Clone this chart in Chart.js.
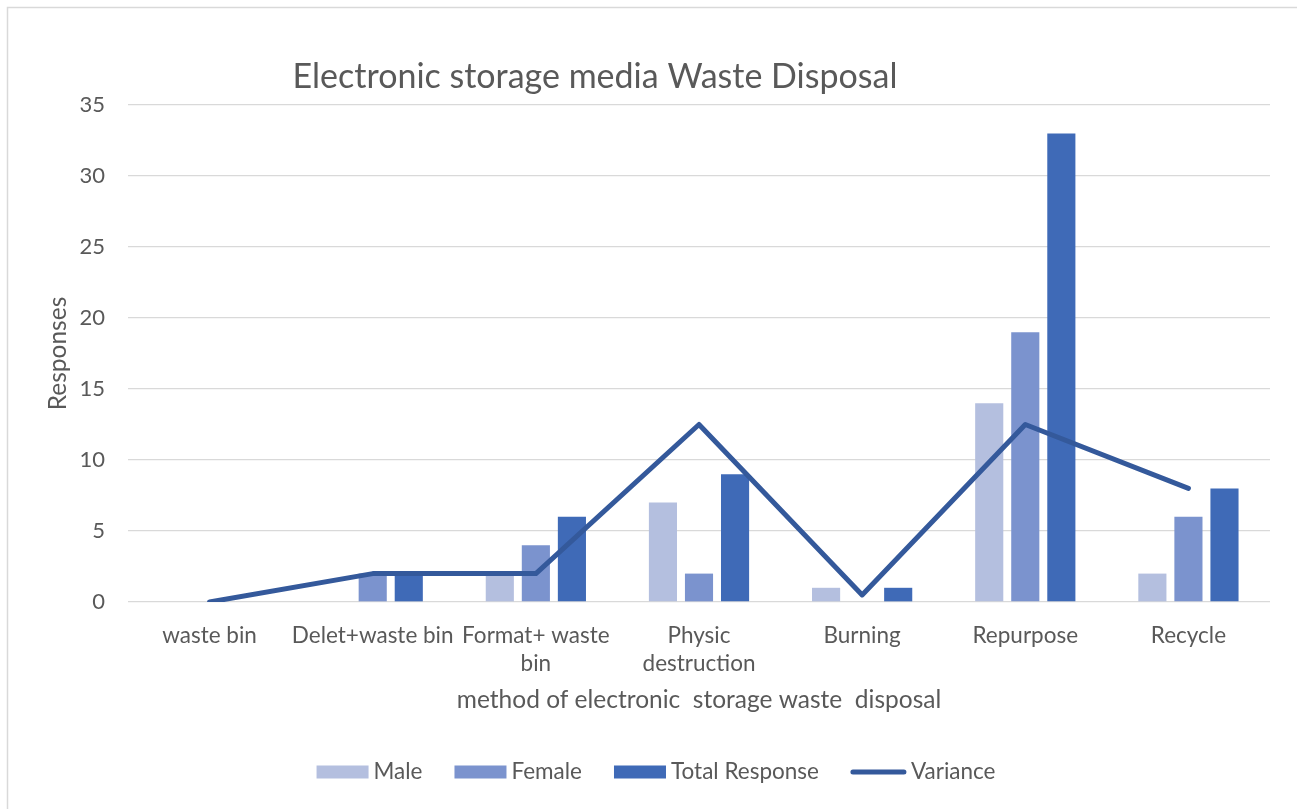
<!DOCTYPE html>
<html>
<head>
<meta charset="utf-8">
<script src="https://cdn.jsdelivr.net/npm/chart.js@4.4.1/dist/chart.umd.min.js"></script>
<style>
  html, body { margin: 0; padding: 0; background: #ffffff; }
  canvas { display: block; }
</style>
</head>
<body>
<canvas id="chart" width="1297" height="809"></canvas>
<script>
// Disposal methods and survey responses
const categories = [
  'waste bin',
  'Delet+waste bin',
  ['Format+ waste', 'bin'],
  ['Physic', 'destruction'],
  'Burning',
  'Repurpose',
  'Recycle'
];
const maleResponses   = [0, 0, 2, 7, 1, 14, 2];
const femaleResponses = [0, 2, 4, 2, 0, 19, 6];
const totalResponses  = [0, 2, 6, 9, 1, 33, 8];
const varianceValues  = [0, 2, 2, 12.5, 0.5, 12.5, 8];
const yTicks = { min: 0, max: 35, step: 5 };

const chartTitle = 'Electronic storage media Waste Disposal';
const xAxisTitle = 'method of electronic  storage waste  disposal';
const yAxisTitle = 'Responses';

const FONT = 'Lato, "Open Sans", sans-serif';
const TEXT_COLOR = '#595959';
const GRID_COLOR = '#D9D9D9';

// White frame with a thin border along the top and left edges, plus the title
const framePlugin = {
  id: 'frame',
  beforeDraw(chart) {
    const ctx = chart.ctx;
    ctx.save();
    ctx.fillStyle = '#ffffff';
    ctx.fillRect(0, 0, chart.width, chart.height);
    ctx.strokeStyle = GRID_COLOR;
    ctx.lineWidth = 1.5;
    ctx.beginPath();
    ctx.moveTo(7.5, chart.height);
    ctx.lineTo(7.5, 7.5);
    ctx.lineTo(chart.width, 7.5);
    ctx.stroke();
    ctx.restore();
  },
  afterDraw(chart) {
    const ctx = chart.ctx;
    ctx.save();
    ctx.fillStyle = TEXT_COLOR;
    ctx.font = '34px ' + FONT;
    ctx.textAlign = 'center';
    ctx.textBaseline = 'middle';
    ctx.fillText(chartTitle, 595, 77);
    ctx.restore();
  }
};

// Legend row under the axis title: boxes for the bar series, a stroke for the line series
const legendPlugin = {
  id: 'bottomLegend',
  afterDraw(chart) {
    const ctx = chart.ctx;
    const sets = chart.data.datasets;
    const boxW = 52, boxH = 13, lineW = 55, textGap = 5, itemGap = 32;
    const cy = 772, cx = 656;
    ctx.save();
    ctx.font = '22.5px ' + FONT;
    ctx.textBaseline = 'middle';
    ctx.textAlign = 'left';
    const widths = sets.map(ds => {
      const sw = ds.type === 'line' ? lineW : boxW;
      return sw + textGap + ctx.measureText(ds.label).width;
    });
    const total = widths.reduce((a, b) => a + b, 0) + itemGap * (sets.length - 1);
    let x = cx - total / 2;
    sets.forEach((ds, i) => {
      if (ds.type === 'line') {
        ctx.strokeStyle = ds.borderColor;
        ctx.lineWidth = ds.borderWidth;
        ctx.lineCap = 'round';
        ctx.beginPath();
        ctx.moveTo(x + 2, cy);
        ctx.lineTo(x + lineW - 2, cy);
        ctx.stroke();
        ctx.fillStyle = TEXT_COLOR;
        ctx.fillText(ds.label, x + lineW + textGap, cy);
      } else {
        ctx.fillStyle = ds.backgroundColor;
        ctx.fillRect(x, cy - boxH / 2, boxW, boxH);
        ctx.fillStyle = TEXT_COLOR;
        ctx.fillText(ds.label, x + boxW + textGap, cy);
      }
      x += widths[i] + itemGap;
    });
    ctx.restore();
  }
};

const barShape = { categoryPercentage: 0.663, barPercentage: 0.78, order: 2 };

new Chart(document.getElementById('chart'), {
  type: 'bar',
  data: {
    labels: categories,
    datasets: [
      { label: 'Male', data: maleResponses, backgroundColor: '#B4BFDF', ...barShape },
      { label: 'Female', data: femaleResponses, backgroundColor: '#7B93CE', ...barShape },
      { label: 'Total Response', data: totalResponses, backgroundColor: '#3F6AB7', ...barShape },
      {
        type: 'line', label: 'Variance', data: varianceValues,
        borderColor: '#34599B', backgroundColor: '#34599B', borderWidth: 5,
        pointRadius: 0, pointHoverRadius: 0, tension: 0, fill: false,
        borderCapStyle: 'round', borderJoinStyle: 'round', order: 1
      }
    ]
  },
  options: {
    responsive: false,
    devicePixelRatio: 1,
    animation: false,
    layout: { padding: { top: 105, right: 27, left: 43, bottom: 94 } },
    plugins: {
      legend: { display: false },
      title: { display: false },
      tooltip: { enabled: false }
    },
    scales: {
      x: {
        grid: { display: false },
        border: { display: false },
        ticks: {
          autoSkip: false, maxRotation: 0, minRotation: 0,
          color: TEXT_COLOR, padding: 11,
          font: { family: FONT, size: 22.5, lineHeight: 1.27 }
        },
        title: {
          display: true, text: xAxisTitle, color: TEXT_COLOR, padding: 0,
          font: { family: FONT, size: 24.5, lineHeight: 1.2 }
        },
        afterFit(scale) { scale.height = 113; }
      },
      y: {
        min: yTicks.min, max: yTicks.max,
        grid: { color: GRID_COLOR, lineWidth: 1.3, drawTicks: false },
        border: { display: false },
        ticks: {
          stepSize: yTicks.step, color: TEXT_COLOR, padding: 23,
          font: { family: FONT, size: 22 }
        },
        title: {
          display: true, text: yAxisTitle, color: TEXT_COLOR, padding: 0,
          font: { family: FONT, size: 24.5, lineHeight: 1.2 }
        },
        afterFit(scale) { scale.width = 85; }
      }
    }
  },
  plugins: [framePlugin, legendPlugin]
});
</script>
</body>
</html>
